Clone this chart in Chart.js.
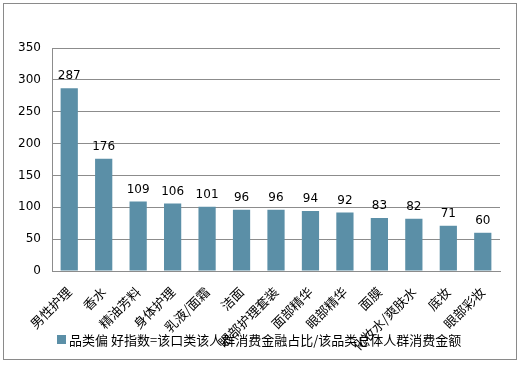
<!DOCTYPE html>
<html>
<head>
<meta charset="utf-8">
<script src="https://cdn.jsdelivr.net/npm/chart.js@4/dist/chart.umd.min.js"></script>
<style>
  html, body {margin: 0; padding: 0; background: #fff;}
  #wrap {width: 519px; height: 365px; position: relative;}
</style>
</head>
<body>
<div id="wrap"><canvas id="chart" width="519" height="365"></canvas></div>
<script>
const categories = [`男性护理`, `香水`, `精油芳料`, `身体护理`, `乳液/面霜`, `洁面`, `眼部护理套装`, `面部精华`, `眼部精华`, `面膜`, `化妆水/爽肤水`, `底妆`, `眼部彩妆`];
const preferenceIndex = [287, 176, 109, 106, 101, 96, 96, 94, 92, 83, 82, 71, 60];
const seriesName = `品类偏 好指数=该口类该人群消费金融占比/该品类总体人群消费金额`;
const yTicks = [0, 50, 100, 150, 200, 250, 300, 350];

const BAR_COLOR = `#5b8fa7`;
const GRID_COLOR = `#8c8c8c`;
const CJK_FONT = `"Noto Sans CJK SC", "Microsoft YaHei", sans-serif`;
const NUM_FONT = `Verdana, "DejaVu Sans", sans-serif`;

// outer frame around the whole picture
const framePlugin = {
  id: `frame`,
  beforeDraw(chart) {
    const {ctx} = chart;
    ctx.save();
    ctx.fillStyle = `#fff`;
    ctx.fillRect(0, 0, chart.width, chart.height);
    ctx.strokeStyle = `#8a8a8a`;
    ctx.lineWidth = 1;
    ctx.strokeRect(3.5, 3.5, 513, 356);
    ctx.restore();
  }
};

// numbers above bars
const valueLabels = {
  id: `valueLabels`,
  afterDatasetsDraw(chart) {
    const {ctx} = chart;
    const meta = chart.getDatasetMeta(0);
    ctx.save();
    ctx.fillStyle = `#000`;
    ctx.font = `12px ${NUM_FONT}`;
    ctx.textAlign = `center`;
    ctx.textBaseline = `bottom`;
    meta.data.forEach((bar, i) => {
      ctx.fillText(preferenceIndex[i], bar.x, bar.y - 6);
    });
    ctx.restore();
  }
};

// legend sits over the rotated labels like in the original
const legendPlugin = {
  id: `fakeLegend`,
  afterDraw(chart) {
    const {ctx} = chart;
    ctx.save();
    ctx.fillStyle = BAR_COLOR;
    ctx.fillRect(57, 335, 9, 9);
    ctx.fillStyle = `#000`;
    ctx.font = `13px ${CJK_FONT}`;
    ctx.textAlign = `left`;
    ctx.textBaseline = `middle`;
    ctx.fillText(seriesName, 69, 340);
    ctx.restore();
  }
};

new Chart(document.getElementById(`chart`).getContext(`2d`), {
  type: `bar`,
  data: {
    labels: categories,
    datasets: [{
      label: seriesName,
      data: preferenceIndex,
      backgroundColor: BAR_COLOR,
      borderWidth: 0,
      categoryPercentage: 1,
      barPercentage: 0.5
    }]
  },
  options: {
    responsive: false,
    animation: false,
    events: [],
    layout: {padding: {top: 48, right: 19, left: 0, bottom: 0}},
    plugins: {
      legend: {display: false},
      tooltip: {enabled: false}
    },
    scales: {
      x: {
        grid: {display: false, drawTicks: false},
        border: {display: true, color: GRID_COLOR, width: 1},
        ticks: {
          color: `#000`,
          font: {family: CJK_FONT, size: 13},
          minRotation: 45,
          maxRotation: 45,
          autoSkip: false,
          padding: 13
        },
        afterFit(scale) {
          scale.height = 94;
        }
      },
      y: {
        min: 0,
        max: 350,
        afterBuildTicks(scale) {
          scale.ticks = yTicks.map((v) => ({value: v}));
        },
        grid: {color: GRID_COLOR, lineWidth: 1, drawTicks: false},
        border: {display: true, color: GRID_COLOR, width: 1},
        ticks: {
          color: `#000`,
          font: {family: NUM_FONT, size: 12},
          padding: 11
        },
        afterFit(scale) {
          scale.width = 52;
        }
      }
    }
  },
  plugins: [framePlugin, valueLabels, legendPlugin]
});
</script>
</body>
</html>
